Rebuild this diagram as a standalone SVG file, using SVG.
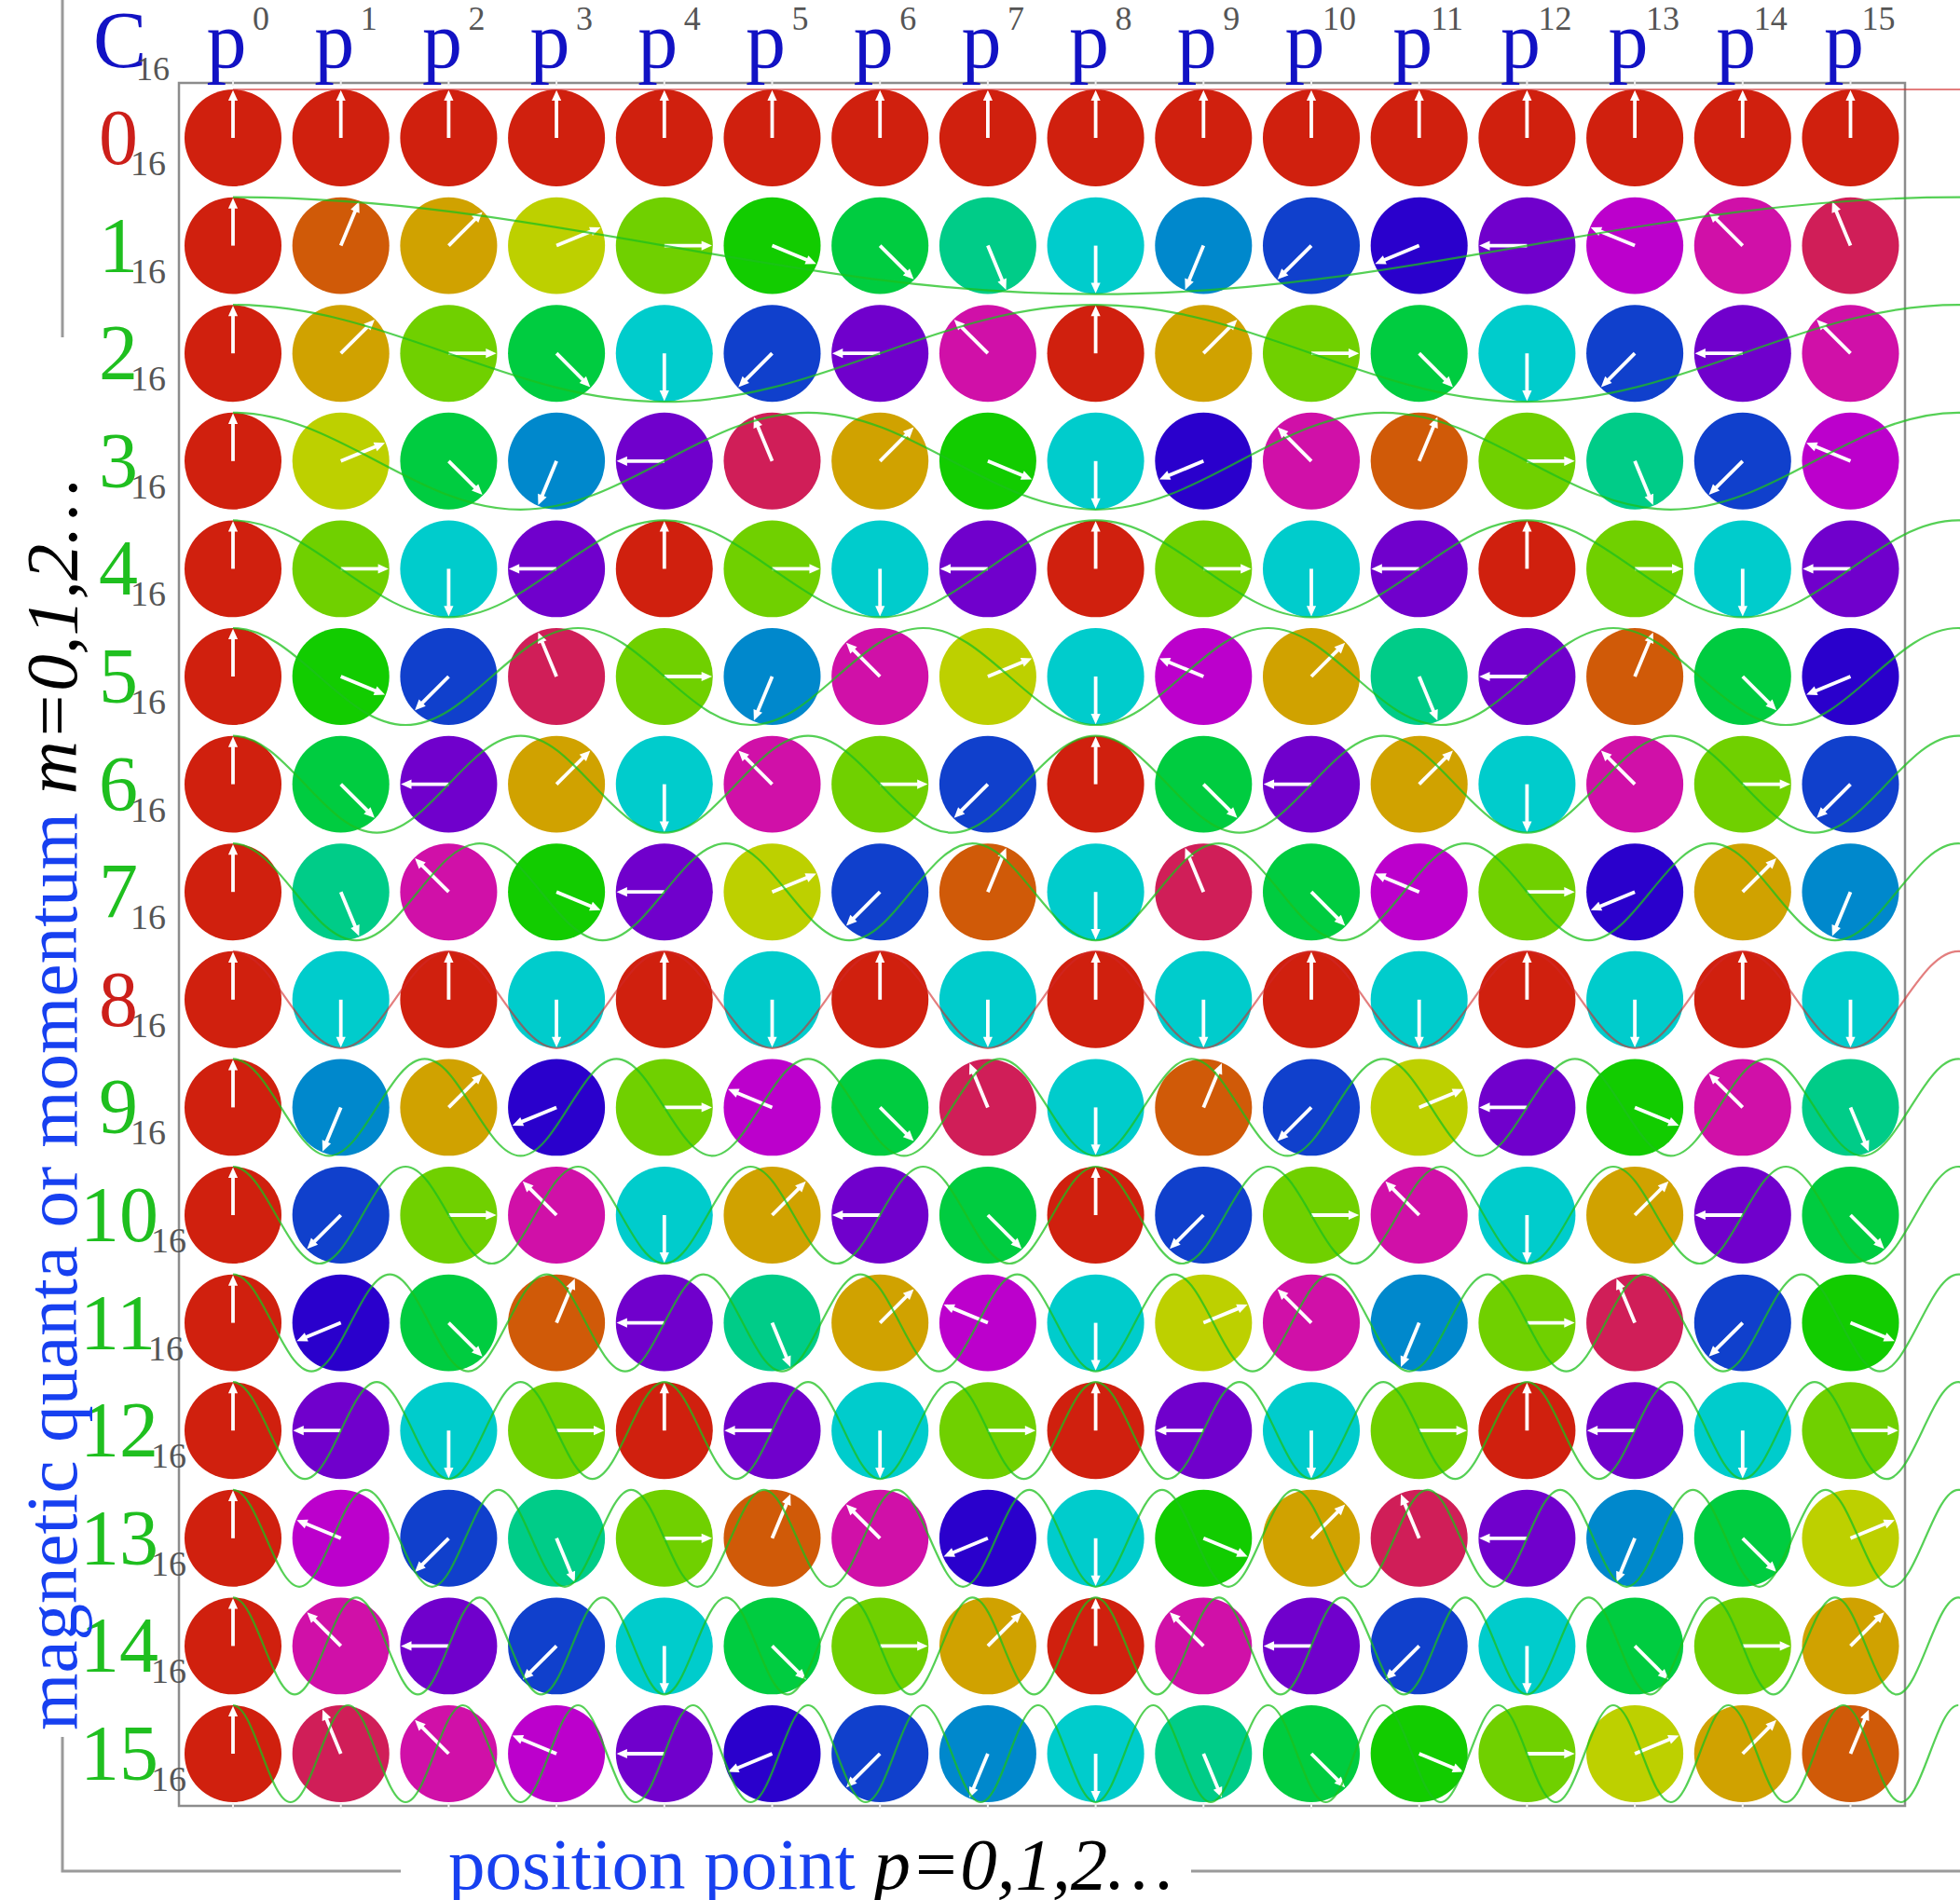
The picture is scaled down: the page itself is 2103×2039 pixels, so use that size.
<svg xmlns="http://www.w3.org/2000/svg" xmlns:xlink="http://www.w3.org/1999/xlink" width="2103" height="2039" viewBox="0 0 2103 2039">
<style>
.hp{font-family:"Liberation Serif",serif;font-size:86px;fill:#1212c4;text-anchor:middle}
.sup{font-family:"Liberation Serif",serif;font-size:36px;fill:#555;text-anchor:middle}
.rl{font-family:"Liberation Serif",serif;font-size:84px}
.rg{fill:#1fbf1f}.rr{fill:#cc1f1a}
.sb{font-size:38px;fill:#555}
.ax{font-family:"Liberation Serif",serif;font-size:79px;fill:#1740f0}
.it{font-style:italic;fill:#000}
.wg{fill:none;stroke:#1cc01c;stroke-opacity:0.75;stroke-width:2.2}
.wr{fill:none;stroke:#d02828;stroke-opacity:0.6;stroke-width:2.2}
.axl{stroke:#9a9a9a;stroke-width:3;fill:none}
.tk{stroke:#eeeeee;stroke-width:2}
</style>
<defs>
<g id="arr"><line x1="0" y1="0" x2="0" y2="-0.35" stroke="#fff" stroke-width="0.033"/><path d="M0,-0.443 L-0.044,-0.345 L0.044,-0.345Z" fill="#fff"/></g>
<g id="k0"><circle r="0.4496" fill="#d0200e"/><use href="#arr"/></g>
<g id="k1"><circle r="0.4496" fill="#d05a08"/><use href="#arr" transform="rotate(22.5)"/></g>
<g id="k2"><circle r="0.4496" fill="#d0a200"/><use href="#arr" transform="rotate(45)"/></g>
<g id="k3"><circle r="0.4496" fill="#bdd000"/><use href="#arr" transform="rotate(67.5)"/></g>
<g id="k4"><circle r="0.4496" fill="#70d000"/><use href="#arr" transform="rotate(90)"/></g>
<g id="k5"><circle r="0.4496" fill="#12cc00"/><use href="#arr" transform="rotate(112.5)"/></g>
<g id="k6"><circle r="0.4496" fill="#00cc40"/><use href="#arr" transform="rotate(135)"/></g>
<g id="k7"><circle r="0.4496" fill="#00cc88"/><use href="#arr" transform="rotate(157.5)"/></g>
<g id="k8"><circle r="0.4496" fill="#00cccc"/><use href="#arr" transform="rotate(180)"/></g>
<g id="k9"><circle r="0.4496" fill="#0088cc"/><use href="#arr" transform="rotate(202.5)"/></g>
<g id="k10"><circle r="0.4496" fill="#1040cc"/><use href="#arr" transform="rotate(225)"/></g>
<g id="k11"><circle r="0.4496" fill="#2a00cc"/><use href="#arr" transform="rotate(247.5)"/></g>
<g id="k12"><circle r="0.4496" fill="#7000cc"/><use href="#arr" transform="rotate(270)"/></g>
<g id="k13"><circle r="0.4496" fill="#bc00cc"/><use href="#arr" transform="rotate(292.5)"/></g>
<g id="k14"><circle r="0.4496" fill="#d010a8"/><use href="#arr" transform="rotate(315)"/></g>
<g id="k15"><circle r="0.4496" fill="#d01e58"/><use href="#arr" transform="rotate(337.5)"/></g>
<path id="wv" vector-effect="non-scaling-stroke" d="M0,-1 c0.5685,0 1.0585,0.4877 1.5708,1 s1.0023,1 1.5708,1 s1.0585,-0.4877 1.5708,-1 s1.0023,-1 1.5708,-1 s1.0585,0.4877 1.5708,1 s1.0023,1 1.5708,1 s1.0585,-0.4877 1.5708,-1 s1.0023,-1 1.5708,-1 s1.0585,0.4877 1.5708,1 s1.0023,1 1.5708,1 s1.0585,-0.4877 1.5708,-1 s1.0023,-1 1.5708,-1 s1.0585,0.4877 1.5708,1 s1.0023,1 1.5708,1 s1.0585,-0.4877 1.5708,-1 s1.0023,-1 1.5708,-1 s1.0585,0.4877 1.5708,1 s1.0023,1 1.5708,1 s1.0585,-0.4877 1.5708,-1 s1.0023,-1 1.5708,-1 s1.0585,0.4877 1.5708,1 s1.0023,1 1.5708,1 s1.0585,-0.4877 1.5708,-1 s1.0023,-1 1.5708,-1 s1.0585,0.4877 1.5708,1 s1.0023,1 1.5708,1 s1.0585,-0.4877 1.5708,-1 s1.0023,-1 1.5708,-1 s1.0585,0.4877 1.5708,1 s1.0023,1 1.5708,1 s1.0585,-0.4877 1.5708,-1 s1.0023,-1 1.5708,-1 s1.0585,0.4877 1.5708,1 s1.0023,1 1.5708,1 s1.0585,-0.4877 1.5708,-1 s1.0023,-1 1.5708,-1 s1.0585,0.4877 1.5708,1 s1.0023,1 1.5708,1 s1.0585,-0.4877 1.5708,-1 s1.0023,-1 1.5708,-1 s1.0585,0.4877 1.5708,1 s1.0023,1 1.5708,1 s1.0585,-0.4877 1.5708,-1 s1.0023,-1 1.5708,-1 s1.0585,0.4877 1.5708,1 s1.0023,1 1.5708,1 s1.0585,-0.4877 1.5708,-1 s1.0023,-1 1.5708,-1 s1.0585,0.4877 1.5708,1 s1.0023,1 1.5708,1 s1.0585,-0.4877 1.5708,-1 s1.0023,-1 1.5708,-1 s1.0585,0.4877 1.5708,1 s1.0023,1 1.5708,1 s1.0585,-0.4877 1.5708,-1 s1.0023,-1 1.5708,-1 s1.0585,0.4877 1.5708,1 s1.0023,1 1.5708,1 s1.0585,-0.4877 1.5708,-1 s1.0023,-1 1.5708,-1"/>
</defs>
<rect width="2103" height="2039" fill="#fff"/>
<g id="axes">
<line class="axl" x1="67" y1="0" x2="67" y2="362"/>
<polyline class="axl" points="67,1864 67,2008 430,2008"/>
<line class="axl" x1="1278" y1="2008" x2="2103" y2="2008"/>
<rect x="192" y="89" width="1852" height="1849" fill="none" stroke="#8c8c8c" stroke-width="2.5"/>
<g class="tk">
<line x1="250" y1="86" x2="250" y2="92"/><line x1="365.7" y1="86" x2="365.7" y2="92"/><line x1="481.4" y1="86" x2="481.4" y2="92"/><line x1="597.1" y1="86" x2="597.1" y2="92"/><line x1="712.8" y1="86" x2="712.8" y2="92"/><line x1="828.5" y1="86" x2="828.5" y2="92"/><line x1="944.2" y1="86" x2="944.2" y2="92"/><line x1="1059.9" y1="86" x2="1059.9" y2="92"/><line x1="1175.6" y1="86" x2="1175.6" y2="92"/><line x1="1291.3" y1="86" x2="1291.3" y2="92"/><line x1="1407" y1="86" x2="1407" y2="92"/><line x1="1522.7" y1="86" x2="1522.7" y2="92"/><line x1="1638.4" y1="86" x2="1638.4" y2="92"/><line x1="1754.1" y1="86" x2="1754.1" y2="92"/><line x1="1869.8" y1="86" x2="1869.8" y2="92"/><line x1="1985.5" y1="86" x2="1985.5" y2="92"/>
<line x1="250" y1="1935" x2="250" y2="1941"/><line x1="365.7" y1="1935" x2="365.7" y2="1941"/><line x1="481.4" y1="1935" x2="481.4" y2="1941"/><line x1="597.1" y1="1935" x2="597.1" y2="1941"/><line x1="712.8" y1="1935" x2="712.8" y2="1941"/><line x1="828.5" y1="1935" x2="828.5" y2="1941"/><line x1="944.2" y1="1935" x2="944.2" y2="1941"/><line x1="1059.9" y1="1935" x2="1059.9" y2="1941"/><line x1="1175.6" y1="1935" x2="1175.6" y2="1941"/><line x1="1291.3" y1="1935" x2="1291.3" y2="1941"/><line x1="1407" y1="1935" x2="1407" y2="1941"/><line x1="1522.7" y1="1935" x2="1522.7" y2="1941"/><line x1="1638.4" y1="1935" x2="1638.4" y2="1941"/><line x1="1754.1" y1="1935" x2="1754.1" y2="1941"/><line x1="1869.8" y1="1935" x2="1869.8" y2="1941"/><line x1="1985.5" y1="1935" x2="1985.5" y2="1941"/>
</g>
</g>
<g id="header">
<text class="hp" x="100" y="72" style="text-anchor:start">C</text><text class="sup" x="164" y="86" font-size="38">16</text>
<text class="hp" x="243" y="72">p</text><text class="sup" x="280" y="32">0</text>
<text class="hp" x="358.7" y="72">p</text><text class="sup" x="395.7" y="32">1</text>
<text class="hp" x="474.4" y="72">p</text><text class="sup" x="511.4" y="32">2</text>
<text class="hp" x="590.1" y="72">p</text><text class="sup" x="627.1" y="32">3</text>
<text class="hp" x="705.8" y="72">p</text><text class="sup" x="742.8" y="32">4</text>
<text class="hp" x="821.5" y="72">p</text><text class="sup" x="858.5" y="32">5</text>
<text class="hp" x="937.2" y="72">p</text><text class="sup" x="974.2" y="32">6</text>
<text class="hp" x="1052.9" y="72">p</text><text class="sup" x="1089.9" y="32">7</text>
<text class="hp" x="1168.6" y="72">p</text><text class="sup" x="1205.6" y="32">8</text>
<text class="hp" x="1284.3" y="72">p</text><text class="sup" x="1321.3" y="32">9</text>
<text class="hp" x="1400" y="72">p</text><text class="sup" x="1437" y="32">10</text>
<text class="hp" x="1515.7" y="72">p</text><text class="sup" x="1552.7" y="32">11</text>
<text class="hp" x="1631.4" y="72">p</text><text class="sup" x="1668.4" y="32">12</text>
<text class="hp" x="1747.1" y="72">p</text><text class="sup" x="1784.1" y="32">13</text>
<text class="hp" x="1862.8" y="72">p</text><text class="sup" x="1899.8" y="32">14</text>
<text class="hp" x="1978.5" y="72">p</text><text class="sup" x="2015.5" y="32">15</text>
</g>
<g id="rowlabels">
<text class="rl rr" x="106" y="176">0<tspan class="sb" dx="-8" dy="12">16</tspan></text>
<text class="rl rg" x="106" y="291.6">1<tspan class="sb" dx="-8" dy="12">16</tspan></text>
<text class="rl rg" x="106" y="407.2">2<tspan class="sb" dx="-8" dy="12">16</tspan></text>
<text class="rl rg" x="106" y="522.8">3<tspan class="sb" dx="-8" dy="12">16</tspan></text>
<text class="rl rg" x="106" y="638.4">4<tspan class="sb" dx="-8" dy="12">16</tspan></text>
<text class="rl rg" x="106" y="754">5<tspan class="sb" dx="-8" dy="12">16</tspan></text>
<text class="rl rg" x="106" y="869.6">6<tspan class="sb" dx="-8" dy="12">16</tspan></text>
<text class="rl rg" x="106" y="985.2">7<tspan class="sb" dx="-8" dy="12">16</tspan></text>
<text class="rl rr" x="106" y="1100.8">8<tspan class="sb" dx="-8" dy="12">16</tspan></text>
<text class="rl rg" x="106" y="1216.4">9<tspan class="sb" dx="-8" dy="12">16</tspan></text>
<text class="rl rg" x="86" y="1332">10<tspan class="sb" dx="-8" dy="12">16</tspan></text>
<text class="rl rg" x="86" y="1447.6">11<tspan class="sb" dx="-8" dy="12">16</tspan></text>
<text class="rl rg" x="86" y="1563.2">12<tspan class="sb" dx="-8" dy="12">16</tspan></text>
<text class="rl rg" x="86" y="1678.8">13<tspan class="sb" dx="-8" dy="12">16</tspan></text>
<text class="rl rg" x="86" y="1794.4">14<tspan class="sb" dx="-8" dy="12">16</tspan></text>
<text class="rl rg" x="86" y="1910">15<tspan class="sb" dx="-8" dy="12">16</tspan></text>
</g>
<text class="ax" x="481" y="2027">position point <tspan class="it">p=0,1,2…</tspan></text>
<text class="ax" transform="translate(82,1857) rotate(-90)" font-size="80">magnetic quanta or momentum <tspan class="it">m=0,1,2…</tspan></text>
<g id="grid" transform="translate(250,148) scale(115.7,115.6)">
<g id="n0-0"><use href="#k0" x="0" y="0"/></g><g id="n0-1"><use href="#k0" x="1" y="0"/></g><g id="n0-2"><use href="#k0" x="2" y="0"/></g><g id="n0-3"><use href="#k0" x="3" y="0"/></g><g id="n0-4"><use href="#k0" x="4" y="0"/></g><g id="n0-5"><use href="#k0" x="5" y="0"/></g><g id="n0-6"><use href="#k0" x="6" y="0"/></g><g id="n0-7"><use href="#k0" x="7" y="0"/></g><g id="n0-8"><use href="#k0" x="8" y="0"/></g><g id="n0-9"><use href="#k0" x="9" y="0"/></g><g id="n0-10"><use href="#k0" x="10" y="0"/></g><g id="n0-11"><use href="#k0" x="11" y="0"/></g><g id="n0-12"><use href="#k0" x="12" y="0"/></g><g id="n0-13"><use href="#k0" x="13" y="0"/></g><g id="n0-14"><use href="#k0" x="14" y="0"/></g><g id="n0-15"><use href="#k0" x="15" y="0"/></g>
<g id="n1-0"><use href="#k0" x="0" y="1"/></g><g id="n1-1"><use href="#k1" x="1" y="1"/></g><g id="n1-2"><use href="#k2" x="2" y="1"/></g><g id="n1-3"><use href="#k3" x="3" y="1"/></g><g id="n1-4"><use href="#k4" x="4" y="1"/></g><g id="n1-5"><use href="#k5" x="5" y="1"/></g><g id="n1-6"><use href="#k6" x="6" y="1"/></g><g id="n1-7"><use href="#k7" x="7" y="1"/></g><g id="n1-8"><use href="#k8" x="8" y="1"/></g><g id="n1-9"><use href="#k9" x="9" y="1"/></g><g id="n1-10"><use href="#k10" x="10" y="1"/></g><g id="n1-11"><use href="#k11" x="11" y="1"/></g><g id="n1-12"><use href="#k12" x="12" y="1"/></g><g id="n1-13"><use href="#k13" x="13" y="1"/></g><g id="n1-14"><use href="#k14" x="14" y="1"/></g><g id="n1-15"><use href="#k15" x="15" y="1"/></g>
<g id="n2-0"><use href="#k0" x="0" y="2"/></g><g id="n2-1"><use href="#k2" x="1" y="2"/></g><g id="n2-2"><use href="#k4" x="2" y="2"/></g><g id="n2-3"><use href="#k6" x="3" y="2"/></g><g id="n2-4"><use href="#k8" x="4" y="2"/></g><g id="n2-5"><use href="#k10" x="5" y="2"/></g><g id="n2-6"><use href="#k12" x="6" y="2"/></g><g id="n2-7"><use href="#k14" x="7" y="2"/></g><g id="n2-8"><use href="#k0" x="8" y="2"/></g><g id="n2-9"><use href="#k2" x="9" y="2"/></g><g id="n2-10"><use href="#k4" x="10" y="2"/></g><g id="n2-11"><use href="#k6" x="11" y="2"/></g><g id="n2-12"><use href="#k8" x="12" y="2"/></g><g id="n2-13"><use href="#k10" x="13" y="2"/></g><g id="n2-14"><use href="#k12" x="14" y="2"/></g><g id="n2-15"><use href="#k14" x="15" y="2"/></g>
<g id="n3-0"><use href="#k0" x="0" y="3"/></g><g id="n3-1"><use href="#k3" x="1" y="3"/></g><g id="n3-2"><use href="#k6" x="2" y="3"/></g><g id="n3-3"><use href="#k9" x="3" y="3"/></g><g id="n3-4"><use href="#k12" x="4" y="3"/></g><g id="n3-5"><use href="#k15" x="5" y="3"/></g><g id="n3-6"><use href="#k2" x="6" y="3"/></g><g id="n3-7"><use href="#k5" x="7" y="3"/></g><g id="n3-8"><use href="#k8" x="8" y="3"/></g><g id="n3-9"><use href="#k11" x="9" y="3"/></g><g id="n3-10"><use href="#k14" x="10" y="3"/></g><g id="n3-11"><use href="#k1" x="11" y="3"/></g><g id="n3-12"><use href="#k4" x="12" y="3"/></g><g id="n3-13"><use href="#k7" x="13" y="3"/></g><g id="n3-14"><use href="#k10" x="14" y="3"/></g><g id="n3-15"><use href="#k13" x="15" y="3"/></g>
<g id="n4-0"><use href="#k0" x="0" y="4"/></g><g id="n4-1"><use href="#k4" x="1" y="4"/></g><g id="n4-2"><use href="#k8" x="2" y="4"/></g><g id="n4-3"><use href="#k12" x="3" y="4"/></g><g id="n4-4"><use href="#k0" x="4" y="4"/></g><g id="n4-5"><use href="#k4" x="5" y="4"/></g><g id="n4-6"><use href="#k8" x="6" y="4"/></g><g id="n4-7"><use href="#k12" x="7" y="4"/></g><g id="n4-8"><use href="#k0" x="8" y="4"/></g><g id="n4-9"><use href="#k4" x="9" y="4"/></g><g id="n4-10"><use href="#k8" x="10" y="4"/></g><g id="n4-11"><use href="#k12" x="11" y="4"/></g><g id="n4-12"><use href="#k0" x="12" y="4"/></g><g id="n4-13"><use href="#k4" x="13" y="4"/></g><g id="n4-14"><use href="#k8" x="14" y="4"/></g><g id="n4-15"><use href="#k12" x="15" y="4"/></g>
<g id="n5-0"><use href="#k0" x="0" y="5"/></g><g id="n5-1"><use href="#k5" x="1" y="5"/></g><g id="n5-2"><use href="#k10" x="2" y="5"/></g><g id="n5-3"><use href="#k15" x="3" y="5"/></g><g id="n5-4"><use href="#k4" x="4" y="5"/></g><g id="n5-5"><use href="#k9" x="5" y="5"/></g><g id="n5-6"><use href="#k14" x="6" y="5"/></g><g id="n5-7"><use href="#k3" x="7" y="5"/></g><g id="n5-8"><use href="#k8" x="8" y="5"/></g><g id="n5-9"><use href="#k13" x="9" y="5"/></g><g id="n5-10"><use href="#k2" x="10" y="5"/></g><g id="n5-11"><use href="#k7" x="11" y="5"/></g><g id="n5-12"><use href="#k12" x="12" y="5"/></g><g id="n5-13"><use href="#k1" x="13" y="5"/></g><g id="n5-14"><use href="#k6" x="14" y="5"/></g><g id="n5-15"><use href="#k11" x="15" y="5"/></g>
<g id="n6-0"><use href="#k0" x="0" y="6"/></g><g id="n6-1"><use href="#k6" x="1" y="6"/></g><g id="n6-2"><use href="#k12" x="2" y="6"/></g><g id="n6-3"><use href="#k2" x="3" y="6"/></g><g id="n6-4"><use href="#k8" x="4" y="6"/></g><g id="n6-5"><use href="#k14" x="5" y="6"/></g><g id="n6-6"><use href="#k4" x="6" y="6"/></g><g id="n6-7"><use href="#k10" x="7" y="6"/></g><g id="n6-8"><use href="#k0" x="8" y="6"/></g><g id="n6-9"><use href="#k6" x="9" y="6"/></g><g id="n6-10"><use href="#k12" x="10" y="6"/></g><g id="n6-11"><use href="#k2" x="11" y="6"/></g><g id="n6-12"><use href="#k8" x="12" y="6"/></g><g id="n6-13"><use href="#k14" x="13" y="6"/></g><g id="n6-14"><use href="#k4" x="14" y="6"/></g><g id="n6-15"><use href="#k10" x="15" y="6"/></g>
<g id="n7-0"><use href="#k0" x="0" y="7"/></g><g id="n7-1"><use href="#k7" x="1" y="7"/></g><g id="n7-2"><use href="#k14" x="2" y="7"/></g><g id="n7-3"><use href="#k5" x="3" y="7"/></g><g id="n7-4"><use href="#k12" x="4" y="7"/></g><g id="n7-5"><use href="#k3" x="5" y="7"/></g><g id="n7-6"><use href="#k10" x="6" y="7"/></g><g id="n7-7"><use href="#k1" x="7" y="7"/></g><g id="n7-8"><use href="#k8" x="8" y="7"/></g><g id="n7-9"><use href="#k15" x="9" y="7"/></g><g id="n7-10"><use href="#k6" x="10" y="7"/></g><g id="n7-11"><use href="#k13" x="11" y="7"/></g><g id="n7-12"><use href="#k4" x="12" y="7"/></g><g id="n7-13"><use href="#k11" x="13" y="7"/></g><g id="n7-14"><use href="#k2" x="14" y="7"/></g><g id="n7-15"><use href="#k9" x="15" y="7"/></g>
<g id="n8-0"><use href="#k0" x="0" y="8"/></g><g id="n8-1"><use href="#k8" x="1" y="8"/></g><g id="n8-2"><use href="#k0" x="2" y="8"/></g><g id="n8-3"><use href="#k8" x="3" y="8"/></g><g id="n8-4"><use href="#k0" x="4" y="8"/></g><g id="n8-5"><use href="#k8" x="5" y="8"/></g><g id="n8-6"><use href="#k0" x="6" y="8"/></g><g id="n8-7"><use href="#k8" x="7" y="8"/></g><g id="n8-8"><use href="#k0" x="8" y="8"/></g><g id="n8-9"><use href="#k8" x="9" y="8"/></g><g id="n8-10"><use href="#k0" x="10" y="8"/></g><g id="n8-11"><use href="#k8" x="11" y="8"/></g><g id="n8-12"><use href="#k0" x="12" y="8"/></g><g id="n8-13"><use href="#k8" x="13" y="8"/></g><g id="n8-14"><use href="#k0" x="14" y="8"/></g><g id="n8-15"><use href="#k8" x="15" y="8"/></g>
<g id="n9-0"><use href="#k0" x="0" y="9"/></g><g id="n9-1"><use href="#k9" x="1" y="9"/></g><g id="n9-2"><use href="#k2" x="2" y="9"/></g><g id="n9-3"><use href="#k11" x="3" y="9"/></g><g id="n9-4"><use href="#k4" x="4" y="9"/></g><g id="n9-5"><use href="#k13" x="5" y="9"/></g><g id="n9-6"><use href="#k6" x="6" y="9"/></g><g id="n9-7"><use href="#k15" x="7" y="9"/></g><g id="n9-8"><use href="#k8" x="8" y="9"/></g><g id="n9-9"><use href="#k1" x="9" y="9"/></g><g id="n9-10"><use href="#k10" x="10" y="9"/></g><g id="n9-11"><use href="#k3" x="11" y="9"/></g><g id="n9-12"><use href="#k12" x="12" y="9"/></g><g id="n9-13"><use href="#k5" x="13" y="9"/></g><g id="n9-14"><use href="#k14" x="14" y="9"/></g><g id="n9-15"><use href="#k7" x="15" y="9"/></g>
<g id="n10-0"><use href="#k0" x="0" y="10"/></g><g id="n10-1"><use href="#k10" x="1" y="10"/></g><g id="n10-2"><use href="#k4" x="2" y="10"/></g><g id="n10-3"><use href="#k14" x="3" y="10"/></g><g id="n10-4"><use href="#k8" x="4" y="10"/></g><g id="n10-5"><use href="#k2" x="5" y="10"/></g><g id="n10-6"><use href="#k12" x="6" y="10"/></g><g id="n10-7"><use href="#k6" x="7" y="10"/></g><g id="n10-8"><use href="#k0" x="8" y="10"/></g><g id="n10-9"><use href="#k10" x="9" y="10"/></g><g id="n10-10"><use href="#k4" x="10" y="10"/></g><g id="n10-11"><use href="#k14" x="11" y="10"/></g><g id="n10-12"><use href="#k8" x="12" y="10"/></g><g id="n10-13"><use href="#k2" x="13" y="10"/></g><g id="n10-14"><use href="#k12" x="14" y="10"/></g><g id="n10-15"><use href="#k6" x="15" y="10"/></g>
<g id="n11-0"><use href="#k0" x="0" y="11"/></g><g id="n11-1"><use href="#k11" x="1" y="11"/></g><g id="n11-2"><use href="#k6" x="2" y="11"/></g><g id="n11-3"><use href="#k1" x="3" y="11"/></g><g id="n11-4"><use href="#k12" x="4" y="11"/></g><g id="n11-5"><use href="#k7" x="5" y="11"/></g><g id="n11-6"><use href="#k2" x="6" y="11"/></g><g id="n11-7"><use href="#k13" x="7" y="11"/></g><g id="n11-8"><use href="#k8" x="8" y="11"/></g><g id="n11-9"><use href="#k3" x="9" y="11"/></g><g id="n11-10"><use href="#k14" x="10" y="11"/></g><g id="n11-11"><use href="#k9" x="11" y="11"/></g><g id="n11-12"><use href="#k4" x="12" y="11"/></g><g id="n11-13"><use href="#k15" x="13" y="11"/></g><g id="n11-14"><use href="#k10" x="14" y="11"/></g><g id="n11-15"><use href="#k5" x="15" y="11"/></g>
<g id="n12-0"><use href="#k0" x="0" y="12"/></g><g id="n12-1"><use href="#k12" x="1" y="12"/></g><g id="n12-2"><use href="#k8" x="2" y="12"/></g><g id="n12-3"><use href="#k4" x="3" y="12"/></g><g id="n12-4"><use href="#k0" x="4" y="12"/></g><g id="n12-5"><use href="#k12" x="5" y="12"/></g><g id="n12-6"><use href="#k8" x="6" y="12"/></g><g id="n12-7"><use href="#k4" x="7" y="12"/></g><g id="n12-8"><use href="#k0" x="8" y="12"/></g><g id="n12-9"><use href="#k12" x="9" y="12"/></g><g id="n12-10"><use href="#k8" x="10" y="12"/></g><g id="n12-11"><use href="#k4" x="11" y="12"/></g><g id="n12-12"><use href="#k0" x="12" y="12"/></g><g id="n12-13"><use href="#k12" x="13" y="12"/></g><g id="n12-14"><use href="#k8" x="14" y="12"/></g><g id="n12-15"><use href="#k4" x="15" y="12"/></g>
<g id="n13-0"><use href="#k0" x="0" y="13"/></g><g id="n13-1"><use href="#k13" x="1" y="13"/></g><g id="n13-2"><use href="#k10" x="2" y="13"/></g><g id="n13-3"><use href="#k7" x="3" y="13"/></g><g id="n13-4"><use href="#k4" x="4" y="13"/></g><g id="n13-5"><use href="#k1" x="5" y="13"/></g><g id="n13-6"><use href="#k14" x="6" y="13"/></g><g id="n13-7"><use href="#k11" x="7" y="13"/></g><g id="n13-8"><use href="#k8" x="8" y="13"/></g><g id="n13-9"><use href="#k5" x="9" y="13"/></g><g id="n13-10"><use href="#k2" x="10" y="13"/></g><g id="n13-11"><use href="#k15" x="11" y="13"/></g><g id="n13-12"><use href="#k12" x="12" y="13"/></g><g id="n13-13"><use href="#k9" x="13" y="13"/></g><g id="n13-14"><use href="#k6" x="14" y="13"/></g><g id="n13-15"><use href="#k3" x="15" y="13"/></g>
<g id="n14-0"><use href="#k0" x="0" y="14"/></g><g id="n14-1"><use href="#k14" x="1" y="14"/></g><g id="n14-2"><use href="#k12" x="2" y="14"/></g><g id="n14-3"><use href="#k10" x="3" y="14"/></g><g id="n14-4"><use href="#k8" x="4" y="14"/></g><g id="n14-5"><use href="#k6" x="5" y="14"/></g><g id="n14-6"><use href="#k4" x="6" y="14"/></g><g id="n14-7"><use href="#k2" x="7" y="14"/></g><g id="n14-8"><use href="#k0" x="8" y="14"/></g><g id="n14-9"><use href="#k14" x="9" y="14"/></g><g id="n14-10"><use href="#k12" x="10" y="14"/></g><g id="n14-11"><use href="#k10" x="11" y="14"/></g><g id="n14-12"><use href="#k8" x="12" y="14"/></g><g id="n14-13"><use href="#k6" x="13" y="14"/></g><g id="n14-14"><use href="#k4" x="14" y="14"/></g><g id="n14-15"><use href="#k2" x="15" y="14"/></g>
<g id="n15-0"><use href="#k0" x="0" y="15"/></g><g id="n15-1"><use href="#k15" x="1" y="15"/></g><g id="n15-2"><use href="#k14" x="2" y="15"/></g><g id="n15-3"><use href="#k13" x="3" y="15"/></g><g id="n15-4"><use href="#k12" x="4" y="15"/></g><g id="n15-5"><use href="#k11" x="5" y="15"/></g><g id="n15-6"><use href="#k10" x="6" y="15"/></g><g id="n15-7"><use href="#k9" x="7" y="15"/></g><g id="n15-8"><use href="#k8" x="8" y="15"/></g><g id="n15-9"><use href="#k7" x="9" y="15"/></g><g id="n15-10"><use href="#k6" x="10" y="15"/></g><g id="n15-11"><use href="#k5" x="11" y="15"/></g><g id="n15-12"><use href="#k4" x="12" y="15"/></g><g id="n15-13"><use href="#k3" x="13" y="15"/></g><g id="n15-14"><use href="#k2" x="14" y="15"/></g><g id="n15-15"><use href="#k1" x="15" y="15"/></g>
</g>
<g id="waves">
<line class="wr" x1="250" y1="96" x2="2103" y2="96"/>
<use href="#wv" class="wg" transform="translate(250,263.6) scale(294.63,52)"/>
<use href="#wv" class="wg" transform="translate(250,379.2) scale(147.315,52)"/>
<use href="#wv" class="wg" transform="translate(250,494.8) scale(98.21,52)"/>
<use href="#wv" class="wg" transform="translate(250,610.4) scale(73.658,52)"/>
<use href="#wv" class="wg" transform="translate(250,726) scale(58.926,52)"/>
<use href="#wv" class="wg" transform="translate(250,841.6) scale(49.105,52)"/>
<use href="#wv" class="wg" transform="translate(250,957.2) scale(42.09,52)"/>
<use href="#wv" class="wr" transform="translate(250,1072.8) scale(36.829,52)"/>
<use href="#wv" class="wg" transform="translate(250,1188.4) scale(32.737,52)"/>
<use href="#wv" class="wg" transform="translate(250,1304) scale(29.463,52)"/>
<use href="#wv" class="wg" transform="translate(250,1419.6) scale(26.785,52)"/>
<use href="#wv" class="wg" transform="translate(250,1535.2) scale(24.553,52)"/>
<use href="#wv" class="wg" transform="translate(250,1650.8) scale(22.664,52)"/>
<use href="#wv" class="wg" transform="translate(250,1766.4) scale(21.045,52)"/>
<use href="#wv" class="wg" transform="translate(250,1882) scale(19.642,52)"/>
</g>
</svg>
